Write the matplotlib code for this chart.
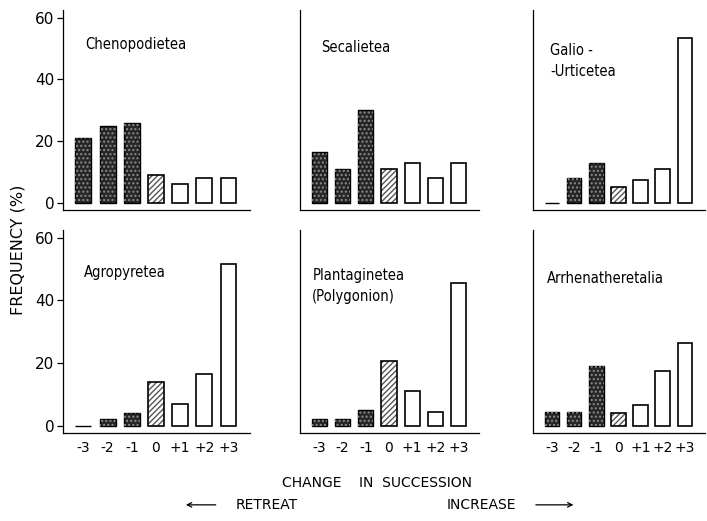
import matplotlib.pyplot as plt
from matplotlib.patches import FancyArrowPatch
import numpy as np

# Change in succession classes
categories = ["-3", "-2", "-1", "0", "+1", "+2", "+3"]

# Frequency (%) per phytosociological class
chenopodietea = [21, 25, 26, 9, 6, 8, 8]
secalietea = [16.5, 11, 30, 11, 13, 8, 13]
galio_urticetea = [0, 8, 13, 5, 7.5, 11, 53.5]
agropyretea = [0, 2, 4, 14, 7, 16.5, 51.5]
plantaginetea = [2, 2, 5, 20.5, 11, 4.5, 45.5]
arrhenatheretalia = [4.5, 4.5, 19, 4, 6.5, 17.5, 26.5]

panel_names = ["Chenopodietea", "Secalietea", "Galio -\n-Urticetea",
               "Agropyretea", "Plantaginetea\n(Polygonion)", "Arrhenatheretalia"]
panel_values = [chenopodietea, secalietea, galio_urticetea,
                agropyretea, plantaginetea, arrhenatheretalia]

fig = plt.figure(figsize=(7.07, 5.21), dpi=100)

# axes boxes in figure fraction
lefts = [0.089, 0.424, 0.754]
widths = [0.265, 0.254, 0.243]
bottoms = [0.597, 0.169]
heights = [0.384, 0.39]
# label positions inside each panel (axes fraction)
label_pos = [(0.12, 0.825), (0.12, 0.81), (0.10, 0.745),
             (0.11, 0.79), (0.07, 0.724), (0.08, 0.76)]

x = np.arange(len(categories))
w = 0.66
dark = x < 3
mid = x == 3
light = x > 3

for i, (name, vals) in enumerate(zip(panel_names, panel_values)):
    row, col = divmod(i, 3)
    ax = fig.add_axes([lefts[col], bottoms[row], widths[col], heights[row]])
    vals = np.array(vals)

    # retreat: dark stippled bars
    ax.bar(x[dark], vals[dark], w, color="#262626", edgecolor="black", lw=1.0)
    ax.bar(x[dark], vals[dark], w, fill=False, hatch="....", edgecolor="#8c8c8c", lw=0)
    # no change: hatched bar
    ax.bar(x[mid], vals[mid], w, color="white", edgecolor="#555555", hatch="//////", lw=0)
    ax.bar(x[mid], vals[mid], w, fill=False, edgecolor="black", lw=1.2)
    # increase: open bars
    ax.bar(x[light], vals[light], w, color="white", edgecolor="black", lw=1.2)

    ax.set_xlim(-0.85, 6.9)
    ax.set_ylim(-2.3, 62.5)
    ax.spines["top"].set_visible(False)
    ax.spines["right"].set_visible(False)
    for s in ("left", "bottom"):
        ax.spines[s].set_linewidth(0.9)

    if col == 0:
        ax.set_yticks([0, 20, 40, 60])
        ax.tick_params(axis="y", length=4, width=0.9, labelsize=11, pad=2)
    else:
        ax.set_yticks([])

    if row == 1:
        ax.set_xticks(x)
        ax.set_xticklabels(categories)
        ax.tick_params(axis="x", length=0, labelsize=10, pad=6)
    else:
        ax.set_xticks([])

    tx, ty = label_pos[i]
    ax.text(tx, ty, name, transform=ax.transAxes, ha="left", va="center",
            fontsize=10.5, linespacing=1.5, fontstretch="condensed")

fig.text(0.026, 0.52, "FREQUENCY (%)", rotation=90, ha="center", va="center",
         fontsize=11.5)
fig.text(0.533, 0.073, "CHANGE    IN  SUCCESSION", ha="center", va="center",
         fontsize=10)
fig.text(0.333, 0.031, "RETREAT", ha="left", va="center", fontsize=10)
fig.text(0.632, 0.031, "INCREASE", ha="left", va="center", fontsize=10)
fig.add_artist(FancyArrowPatch((0.309, 0.031), (0.259, 0.031), transform=fig.transFigure,
                               arrowstyle="->", mutation_scale=8, lw=0.9))
fig.add_artist(FancyArrowPatch((0.754, 0.031), (0.815, 0.031), transform=fig.transFigure,
                               arrowstyle="->", mutation_scale=8, lw=0.9))

fig.savefig("out.png", dpi=100)
